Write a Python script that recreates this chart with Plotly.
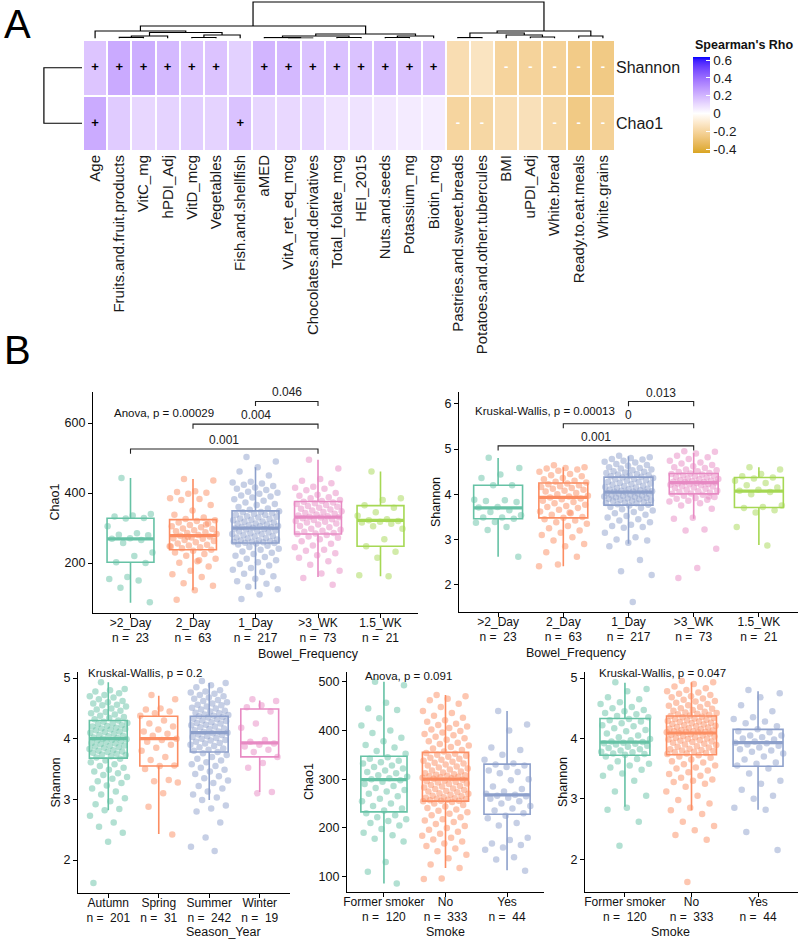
import plotly.graph_objects as go

W, H = 800, 940
FONT = "Liberation Sans, Arial, sans-serif"

# ---------------- Panel A : Spearman correlation heatmap ----------------
heat_vars = ["Age", "Fruits.and.fruit.products", "VitC_mg", "hPDI_Adj", "VitD_mcg", "Vegetables",
             "Fish.and.shellfish", "aMED", "VitA_ret_eq_mcg", "Chocolates.and.derivatives",
             "Total_folate_mcg", "HEI_2015", "Nuts.and.seeds", "Potassium_mg", "Biotin_mcg",
             "Pastries.and.sweet.breads", "Potatoes.and.other.tubercules", "BMI", "uPDI_Adj",
             "White.bread", "Ready.to.eat.meals", "White.grains"]
heat_rows = ["Chao1", "Shannon"]
rho_chao1 = [0.227, 0.14, 0.107, 0.12, 0.13, 0.12, 0.165, 0.11, 0.105, 0.11, 0.079, 0.075, 0.064, 0.052, 0.047,
             -0.20, -0.19, -0.155, -0.145, -0.19, -0.255, -0.22]
rho_shannon = [0.155, 0.23, 0.22, 0.19, 0.16, 0.16, 0.125, 0.20, 0.19, 0.165, 0.168, 0.165, 0.178, 0.168, 0.16,
               -0.16, -0.128, -0.205, -0.21, -0.215, -0.25, -0.255]
sig_chao1 = ["+", "", "", "", "", "", "+", "", "", "", "", "", "", "", "",
             "-", "-", "", "", "-", "-", "-"]
sig_shannon = ["+", "+", "+", "+", "+", "+", "", "+", "+", "+", "+", "+", "+", "+", "+",
               "", "", "-", "-", "-", "-", "-"]
rho_ticks = [-0.4, -0.2, 0, 0.2, 0.4, 0.6]
rho_limits = [-0.445, 0.634]
# column dendrogram: (left node, right node, merge height); leaves 0..21, merges numbered from 22
col_merges = [(1, 2, 1.2), (22, 3, 2.5), (4, 5, 1.0), (24, 6, 3.5), (23, 25, 6.0), (0, 26, 7.5),
              (8, 9, 0.5), (7, 28, 0.8), (10, 11, 1.0), (29, 30, 2.5), (12, 13, 1.0), (32, 14, 2.5),
              (31, 33, 4.5), (27, 34, 12.5), (15, 16, 0.8), (18, 19, 1.5), (17, 37, 3.5), (36, 38, 5.5),
              (20, 21, 2.5), (39, 40, 7.5), (35, 41, 36.5)]
row_merge_height = 1.0

# ---------------- Panel B : alpha diversity boxplots ----------------
set2 = ["#66C2A5", "#FC8D62", "#8DA0CB", "#E78AC3", "#A6D854"]

bowel_cats = [">2_Day", "2_Day", "1_Day", ">3_WK", "1.5_WK"]
bowel_n = [23, 63, 217, 73, 21]
season_cats = ["Autumn", "Spring", "Summer", "Winter"]
season_n = [201, 31, 242, 19]
smoke_cats = ["Former smoker", "No", "Yes"]
smoke_n = [120, 333, 44]

# box statistics: q1, median, q3, lower whisker, upper whisker
chao1_bowel_q1 = [202, 238, 257, 283, 248]
chao1_bowel_med = [269, 278, 300, 331, 322]
chao1_bowel_q3 = [328, 324, 349, 376, 364]
chao1_bowel_lo = [86, 122, 125, 160, 162]
chao1_bowel_hi = [443, 440, 474, 495, 462]

shannon_bowel_q1 = [3.46, 3.48, 3.76, 4.01, 3.71]
shannon_bowel_med = [3.70, 3.93, 4.05, 4.26, 4.07]
shannon_bowel_q3 = [4.20, 4.25, 4.38, 4.46, 4.37]
shannon_bowel_lo = [2.62, 2.41, 2.91, 3.46, 2.88]
shannon_bowel_hi = [4.80, 4.60, 4.84, 4.91, 4.60]

shannon_season_q1 = [3.68, 3.55, 3.78, 3.70]
shannon_season_med = [4.00, 4.00, 4.10, 3.93]
shannon_season_q3 = [4.30, 4.37, 4.37, 4.49]
shannon_season_lo = [2.82, 2.43, 2.99, 3.12]
shannon_season_hi = [4.93, 4.71, 4.92, 4.63]

chao1_smoke_q1 = [233, 255, 228]
chao1_smoke_med = [299, 300, 268]
chao1_smoke_q3 = [347, 355, 331]
chao1_smoke_lo = [86, 118, 113]
chao1_smoke_hi = [500, 473, 440]

shannon_smoke_q1 = [3.72, 3.73, 3.54]
shannon_smoke_med = [3.94, 4.09, 3.93]
shannon_smoke_q3 = [4.33, 4.37, 4.15]
shannon_smoke_lo = [2.87, 2.81, 2.82]
shannon_smoke_hi = [4.92, 4.93, 4.78]

chao1_bowel_pts = [
    [443, 340, 336, 333, 329, 327, 305, 285, 281, 279, 271, 269, 266, 257, 230, 220, 202, 200, 160, 154, 150, 129, 88],
    [440, 436, 405, 403, 401, 398, 385, 383, 380, 366, 350, 338, 330, 326, 322, 320, 316, 313, 309, 305, 302, 299,
     297, 294, 291, 288, 286, 283, 280, 278, 276, 273, 271, 269, 266, 263, 259, 256, 252, 250, 247, 245, 242, 238,
     235, 230, 226, 221, 212, 205, 201, 190, 178, 168, 160, 142, 135, 122, 95, 310, 275, 248, 208],
    [503, 490, 474, 462, 450, 432, 430, 427, 424, 420, 416, 412, 409, 404, 401, 398, 393, 390, 387, 382, 378, 373,
     369, 366, 360, 356, 352, 348, 346, 345, 342, 340, 338, 337, 334, 332, 330, 327, 326, 324, 322, 319, 318, 316,
     313, 312, 310, 308, 306, 305, 303, 302, 301, 299, 297, 296, 293, 291, 290, 287, 285, 283, 282, 279, 277, 276,
     273, 271, 270, 267, 265, 264, 262, 261, 260, 259, 258, 257, 256, 253, 249, 246, 241, 238, 233, 229, 226, 221,
     217, 212, 208, 202, 197, 193, 186, 181, 174, 169, 162, 155, 148, 141, 132, 125, 110, 97],
    [495, 470, 440, 435, 428, 418, 415, 412, 408, 400, 395, 392, 388, 385, 380, 377, 375, 373, 371, 369, 366, 363,
     361, 358, 355, 353, 350, 348, 346, 343, 341, 339, 336, 334, 332, 331, 330, 328, 325, 323, 320, 318, 316, 313,
     310, 306, 302, 298, 295, 292, 289, 286, 284, 283, 280, 276, 272, 268, 262, 255, 250, 245, 238, 235, 228, 222,
     215, 205, 195, 178, 170, 157, 138],
    [462, 385, 380, 365, 358, 345, 335, 325, 322, 320, 318, 316, 312, 305, 298, 268, 248, 232, 215, 165, 162],
]
shannon_bowel_pts = [
    [4.81, 4.58, 4.44, 4.36, 4.20, 4.20, 3.88, 3.87, 3.85, 3.83, 3.72, 3.71, 3.65, 3.61, 3.54, 3.49, 3.49, 3.46,
     3.39, 3.37, 3.28, 3.21, 2.62],
    [4.64, 4.60, 4.58, 4.57, 4.55, 4.52, 4.50, 4.45, 4.42, 4.40, 4.36, 4.33, 4.30, 4.28, 4.26, 4.24, 4.22, 4.20,
     4.18, 4.16, 4.14, 4.12, 4.10, 4.08, 4.06, 4.03, 4.00, 3.97, 3.95, 3.93, 3.91, 3.89, 3.86, 3.83, 3.80, 3.77,
     3.74, 3.72, 3.70, 3.66, 3.62, 3.58, 3.55, 3.50, 3.48, 3.45, 3.42, 3.38, 3.35, 3.30, 3.25, 3.20, 3.15, 3.10,
     3.05, 2.98, 2.90, 2.85, 2.72, 2.62, 2.45, 2.41, 3.60],
    [4.85, 4.82, 4.80, 4.78, 4.77, 4.74, 4.72, 4.70, 4.67, 4.65, 4.63, 4.60, 4.58, 4.57, 4.55, 4.53, 4.51, 4.50,
     4.48, 4.47, 4.45, 4.44, 4.42, 4.41, 4.40, 4.39, 4.37, 4.36, 4.34, 4.33, 4.31, 4.30, 4.28, 4.27, 4.25, 4.24,
     4.22, 4.21, 4.19, 4.18, 4.16, 4.15, 4.14, 4.12, 4.11, 4.10, 4.09, 4.08, 4.07, 4.06, 4.06, 4.05, 4.04, 4.03,
     4.02, 4.01, 4.00, 3.99, 3.98, 3.97, 3.96, 3.95, 3.94, 3.93, 3.92, 3.91, 3.90, 3.89, 3.88, 3.87, 3.86, 3.85,
     3.83, 3.82, 3.81, 3.80, 3.78, 3.77, 3.75, 3.72, 3.70, 3.67, 3.64, 3.61, 3.58, 3.55, 3.52, 3.49, 3.45, 3.42,
     3.38, 3.33, 3.30, 3.28, 3.26, 3.15, 3.05, 3.00, 2.98, 2.93, 2.85, 2.55, 2.30, 2.22, 1.62],
    [4.95, 4.94, 4.90, 4.85, 4.82, 4.78, 4.74, 4.70, 4.68, 4.65, 4.62, 4.60, 4.58, 4.55, 4.53, 4.51, 4.49, 4.47,
     4.46, 4.45, 4.44, 4.42, 4.41, 4.40, 4.38, 4.37, 4.35, 4.34, 4.33, 4.31, 4.30, 4.29, 4.28, 4.27, 4.27, 4.26,
     4.25, 4.24, 4.23, 4.22, 4.21, 4.20, 4.18, 4.17, 4.15, 4.14, 4.12, 4.10, 4.08, 4.07, 4.05, 4.04, 4.02, 4.01,
     3.99, 3.97, 3.94, 3.92, 3.90, 3.88, 3.86, 3.84, 3.80, 3.75, 3.68, 3.48, 3.46, 3.22, 3.20, 2.80, 2.37, 2.15, 3.95],
    [4.60, 4.55, 4.45, 4.40, 4.37, 4.35, 4.30, 4.25, 4.20, 4.15, 4.10, 4.08, 4.05, 4.00, 3.75, 3.72, 3.70, 3.65,
     3.60, 3.28, 2.87],
]
shannon_season_pts = [
    [4.93, 4.82, 4.80, 4.78, 4.75, 4.72, 4.70, 4.68, 4.65, 4.62, 4.60, 4.58, 4.56, 4.55, 4.53, 4.50, 4.48, 4.46,
     4.44, 4.42, 4.40, 4.38, 4.36, 4.34, 4.32, 4.30, 4.28, 4.26, 4.25, 4.24, 4.22, 4.21, 4.20, 4.18, 4.17, 4.16,
     4.15, 4.14, 4.12, 4.11, 4.10, 4.08, 4.06, 4.05, 4.04, 4.02, 4.01, 4.00, 3.99, 3.98, 3.97, 3.96, 3.95, 3.93,
     3.92, 3.91, 3.89, 3.88, 3.87, 3.86, 3.85, 3.83, 3.81, 3.80, 3.79, 3.78, 3.77, 3.75, 3.74, 3.73, 3.71, 3.69,
     3.67, 3.64, 3.61, 3.58, 3.55, 3.52, 3.49, 3.46, 3.43, 3.40, 3.37, 3.34, 3.30, 3.27, 3.23, 3.18, 3.13, 3.08,
     3.02, 2.97, 2.92, 2.84, 2.82, 2.73, 2.62, 2.55, 2.45, 2.30, 1.62],
    [4.72, 4.65, 4.50, 4.48, 4.45, 4.42, 4.38, 4.30, 4.25, 4.20, 4.15, 4.12, 4.08, 4.05, 4.00, 3.98, 3.95, 3.90,
     3.85, 3.80, 3.70, 3.65, 3.56, 3.55, 3.50, 3.32, 3.30, 3.28, 3.10, 2.88, 2.42],
    [4.95, 4.92, 4.88, 4.85, 4.80, 4.78, 4.76, 4.74, 4.72, 4.70, 4.68, 4.66, 4.64, 4.62, 4.60, 4.58, 4.56, 4.55,
     4.53, 4.51, 4.50, 4.48, 4.46, 4.45, 4.43, 4.42, 4.40, 4.39, 4.38, 4.37, 4.36, 4.35, 4.33, 4.32, 4.30, 4.29,
     4.27, 4.26, 4.25, 4.23, 4.22, 4.20, 4.19, 4.17, 4.16, 4.14, 4.12, 4.11, 4.10, 4.09, 4.07, 4.06, 4.04, 4.03,
     4.01, 4.00, 3.98, 3.97, 3.95, 3.93, 3.92, 3.90, 3.88, 3.86, 3.84, 3.82, 3.80, 3.78, 3.76, 3.73, 3.70, 3.67,
     3.64, 3.61, 3.58, 3.55, 3.52, 3.49, 3.46, 3.42, 3.38, 3.35, 3.31, 3.27, 3.22, 3.18, 3.13, 3.08, 3.03, 2.99,
     2.90, 2.85, 2.80, 2.62, 2.37, 2.22, 2.15],
    [4.65, 4.62, 4.55, 4.52, 4.45, 4.25, 4.18, 3.98, 3.95, 3.92, 3.90, 3.87, 3.82, 3.78, 3.70, 3.60, 3.52, 3.12, 3.10],
]
chao1_smoke_pts = [
    [500, 493, 457, 445, 442, 425, 410, 400, 395, 385, 378, 370, 365, 358, 352, 345, 342, 338, 335, 332, 328, 325,
     322, 318, 315, 312, 308, 305, 302, 300, 298, 295, 290, 286, 282, 278, 275, 270, 265, 260, 255, 250, 245, 240,
     236, 230, 226, 222, 218, 214, 210, 205, 198, 190, 185, 178, 172, 130, 110, 86],
    [473, 470, 465, 462, 455, 448, 440, 436, 430, 426, 421, 418, 414, 411, 408, 405, 402, 399, 396, 393, 390, 387,
     384, 381, 378, 375, 372, 369, 366, 363, 360, 357, 354, 352, 350, 348, 346, 344, 342, 340, 338, 336, 334, 332,
     330, 328, 326, 324, 322, 320, 318, 316, 314, 312, 310, 309, 308, 307, 306, 305, 304, 303, 302, 301, 299, 297,
     296, 294, 293, 291, 290, 288, 286, 285, 283, 281, 280, 278, 276, 275, 273, 271, 270, 268, 266, 265, 263, 262,
     261, 260, 259, 258, 257, 256, 256, 255, 253, 250, 247, 244, 241, 238, 235, 232, 229, 226, 222, 218, 215, 212,
     208, 204, 200, 196, 192, 188, 184, 180, 176, 172, 168, 163, 158, 152, 145, 138, 125, 118, 96, 95],
    [440, 412, 400, 365, 360, 350, 340, 332, 330, 328, 325, 318, 315, 312, 300, 298, 285, 280, 275, 270, 268, 266,
     265, 262, 260, 255, 250, 245, 240, 236, 230, 225, 220, 210, 205, 180, 175, 168, 165, 160, 155, 140, 135, 112],
]
shannon_smoke_pts = [
    [4.93, 4.82, 4.78, 4.68, 4.65, 4.60, 4.57, 4.52, 4.50, 4.47, 4.45, 4.42, 4.40, 4.37, 4.35, 4.32, 4.30, 4.28,
     4.25, 4.22, 4.20, 4.17, 4.14, 4.12, 4.08, 4.05, 4.02, 3.99, 3.97, 3.95, 3.94, 3.93, 3.92, 3.91, 3.90, 3.88,
     3.86, 3.84, 3.82, 3.80, 3.78, 3.77, 3.75, 3.74, 3.73, 3.70, 3.66, 3.62, 3.58, 3.55, 3.52, 3.48, 3.42, 3.38,
     3.30, 3.12, 3.05, 2.85, 2.82, 2.62, 2.22],
    [4.95, 4.93, 4.90, 4.86, 4.83, 4.80, 4.78, 4.76, 4.74, 4.72, 4.70, 4.68, 4.66, 4.64, 4.62, 4.61, 4.59, 4.57,
     4.55, 4.54, 4.52, 4.50, 4.49, 4.47, 4.46, 4.44, 4.43, 4.42, 4.41, 4.40, 4.39, 4.38, 4.37, 4.36, 4.35, 4.34,
     4.33, 4.32, 4.31, 4.30, 4.29, 4.28, 4.27, 4.26, 4.25, 4.24, 4.23, 4.22, 4.21, 4.20, 4.19, 4.18, 4.17, 4.16,
     4.15, 4.14, 4.13, 4.12, 4.12, 4.11, 4.11, 4.10, 4.10, 4.09, 4.08, 4.07, 4.06, 4.05, 4.04, 4.03, 4.02, 4.01,
     4.00, 3.99, 3.98, 3.97, 3.96, 3.95, 3.94, 3.93, 3.91, 3.90, 3.89, 3.87, 3.86, 3.85, 3.83, 3.82, 3.81, 3.80,
     3.79, 3.78, 3.77, 3.76, 3.75, 3.74, 3.72, 3.70, 3.68, 3.65, 3.62, 3.60, 3.57, 3.55, 3.52, 3.50, 3.47, 3.44,
     3.41, 3.38, 3.35, 3.32, 3.30, 3.28, 3.25, 3.20, 3.12, 3.05, 2.98, 2.92, 2.85, 2.81, 2.75, 2.62, 2.55, 2.48,
     2.40, 2.32, 1.62],
    [4.80, 4.75, 4.68, 4.55, 4.45, 4.35, 4.32, 4.28, 4.25, 4.20, 4.15, 4.12, 4.10, 4.05, 4.05, 4.02, 4.00, 3.98,
     3.95, 3.93, 3.92, 3.90, 3.88, 3.85, 3.82, 3.80, 3.78, 3.75, 3.70, 3.65, 3.60, 3.58, 3.55, 3.50, 3.42, 3.30,
     3.25, 3.15, 3.05, 3.00, 2.85, 2.82, 2.45, 2.15],
]

# pairwise comparisons: (group a, group b, bracket height, label)
chao1_bowel_brackets = [(0, 3, 526, "0.001"), (1, 3, 597, "0.004"), (2, 3, 662, "0.046")]
shannon_bowel_brackets = [(0, 3, 5.07, "0.001"), (1, 3, 5.56, "0"), (2, 3, 6.05, "0.013")]

chao1_bowel_test = "Anova, p = 0.00029"
shannon_bowel_test = "Kruskal-Wallis, p = 0.00013"
shannon_season_test = "Kruskal-Wallis, p = 0.2"
chao1_smoke_test = "Anova, p = 0.091"
shannon_smoke_test = "Kruskal-Wallis, p = 0.047"


# ---------------- helpers ----------------
def dx(a, b):
    return [a / W, b / W]


def dy(top, bottom):
    return [1 - bottom / H, 1 - top / H]


def _lin(c):
    c = c / 255.0
    return c / 12.92 if c <= 0.04045 else ((c + 0.055) / 1.055) ** 2.4


def _gam(c):
    c = max(0.0, min(1.0, c))
    return 12.92 * c if c <= 0.0031308 else 1.055 * c ** (1 / 2.4) - 0.055


def hex2lab(h):
    r, g, b = [_lin(int(h[i:i + 2], 16)) for i in (1, 3, 5)]
    X = (0.4124 * r + 0.3576 * g + 0.1805 * b) / 0.95047
    Y = 0.2126 * r + 0.7152 * g + 0.0722 * b
    Z = (0.0193 * r + 0.1192 * g + 0.9505 * b) / 1.08883
    f = lambda t: t ** (1 / 3) if t > 0.008856 else 7.787 * t + 16 / 116
    fx, fy, fz = f(X), f(Y), f(Z)
    return (116 * fy - 16, 500 * (fx - fy), 200 * (fy - fz))


def lab2rgb(L, a, b):
    fy = (L + 16) / 116
    fx = fy + a / 500
    fz = fy - b / 200
    finv = lambda t: t ** 3 if t ** 3 > 0.008856 else (t - 16 / 116) / 7.787
    X, Y, Z = finv(fx) * 0.95047, finv(fy), finv(fz) * 1.08883
    r = 3.2406 * X - 1.5372 * Y - 0.4986 * Z
    g = -0.9689 * X + 1.8758 * Y + 0.0415 * Z
    bb = 0.0557 * X - 0.2040 * Y + 1.0570 * Z
    return "rgb(%d,%d,%d)" % tuple(round(255 * _gam(c)) for c in (r, g, bb))


def mix(c1, c2, t):
    l1, l2 = hex2lab(c1), hex2lab(c2)
    return lab2rgb(*[l1[k] + (l2[k] - l1[k]) * t for k in range(3)])


ZMIN, ZMAX = rho_limits
LOW, MID, HIGH = "#DAA520", "#FFFFFF", "#0000FF"
cscale = []
NS = 20
for k in range(NS + 1):
    v = ZMIN * (1 - k / NS)
    cscale.append([(v - ZMIN) / (ZMAX - ZMIN), mix(MID, LOW, v / ZMIN)])
for k in range(1, NS + 1):
    v = ZMAX * k / NS
    cscale.append([(v - ZMIN) / (ZMAX - ZMIN), mix(MID, HIGH, v / ZMAX)])
cscale[0][0] = 0.0
cscale[-1][0] = 1.0

fig = go.Figure()
axes = {}
ann = []

# ---------------- heatmap ----------------
nv = len(heat_vars)
fig.add_trace(go.Heatmap(
    z=[rho_chao1, rho_shannon], x=list(range(nv)), y=[0, 1], xaxis="x", yaxis="y",
    colorscale=cscale, zmin=ZMIN, zmax=ZMAX, xgap=2, ygap=2, hoverinfo="skip",
    colorbar=dict(x=693 / W, xanchor="left", xpad=0, y=1 - 153 / H, yanchor="bottom", ypad=0,
                  len=96, lenmode="pixels", thickness=17, thicknessmode="pixels", outlinewidth=0,
                  tickvals=rho_ticks, ticktext=[("%g" % t) for t in rho_ticks], ticks="inside",
                  tickcolor="white", ticklen=4, tickwidth=1.2,
                  tickfont=dict(size=13.5, color="#1a1a1a", family=FONT))))
ann.append(dict(x=693 / W, y=1 - 45 / H, xref="paper", yref="paper", text="<b>Spearman's Rho</b>",
                showarrow=False, xanchor="left", yanchor="middle", font=dict(size=12.5, color="#111")))
for sig, row in ((sig_shannon, 1), (sig_chao1, 0)):
    for mark, colr in (("+", "black"), ("-", "white")):
        xs = [i for i, s in enumerate(sig) if s == mark]
        fig.add_trace(go.Scatter(x=xs, y=[row] * len(xs), mode="text", text=["<b>%s</b>" % mark] * len(xs),
                                 textfont=dict(size=13, color=colr, family=FONT), xaxis="x", yaxis="y",
                                 hoverinfo="skip"))
axes["xaxis"] = dict(domain=dx(83, 615), range=[-0.5, nv - 0.5], anchor="y", tickvals=list(range(nv)),
                     ticktext=heat_vars, tickangle=-90, tickfont=dict(size=15, color="#1a1a1a"),
                     showgrid=False, zeroline=False, ticks="", showline=False, automargin=False)
axes["yaxis"] = dict(domain=dy(40, 151), range=[-0.5, 1.5], anchor="x", side="right", tickvals=[0, 1],
                     ticktext=heat_rows, tickfont=dict(size=16, color="#1a1a1a"), showgrid=False,
                     zeroline=False, ticks="", showline=False, automargin=False)

# column dendrogram
pos = {i: (float(i), 0.0) for i in range(nv)}
dxs, dys = [], []
for k, (a, b, h) in enumerate(col_merges):
    xa, ha = pos[a]
    xb, hb = pos[b]
    dxs += [xa, xa, xb, xb, None]
    dys += [ha, h, h, hb, None]
    pos[nv + k] = ((xa + xb) / 2, h)
fig.add_trace(go.Scatter(x=dxs, y=dys, mode="lines", line=dict(color="black", width=1.2),
                         xaxis="x2", yaxis="y2", hoverinfo="skip"))
axes["xaxis2"] = dict(domain=dx(83, 615), range=[-0.5, nv - 0.5], anchor="y2", visible=False,
                      automargin=False)
axes["yaxis2"] = dict(domain=dy(1, 38.5), range=[0, 37.5], anchor="x2", visible=False, automargin=False)

# row dendrogram
fig.add_trace(go.Scatter(x=[0, row_merge_height, row_merge_height, 0], y=[0, 0, 1, 1], mode="lines",
                         line=dict(color="black", width=1.2), xaxis="x3", yaxis="y3", hoverinfo="skip"))
axes["xaxis3"] = dict(domain=dx(42, 82), range=[1.05, 0], anchor="y3", visible=False, automargin=False)
axes["yaxis3"] = dict(domain=dy(40, 151), range=[-0.5, 1.5], anchor="x3", visible=False, automargin=False)

# ---------------- box panels ----------------
panels = [
    dict(n=4, px=(93, 418), py=(392, 613), yr=[57, 689], yt=[200, 400, 600], cats=bowel_cats, ns=bowel_n,
         st=(chao1_bowel_q1, chao1_bowel_med, chao1_bowel_q3, chao1_bowel_lo, chao1_bowel_hi),
         pts=chao1_bowel_pts, ytitle="Chao1", xtitle="Bowel_Frequency", ytx=55, xty=41,
         br=chao1_bowel_brackets, test=chao1_bowel_test, tpos=(-0.3, 630, "left")),
    dict(n=5, px=(459, 798), py=(392, 612), yr=[1.40, 6.26], yt=[2, 3, 4, 5, 6], cats=bowel_cats, ns=bowel_n,
         st=(shannon_bowel_q1, shannon_bowel_med, shannon_bowel_q3, shannon_bowel_lo, shannon_bowel_hi),
         pts=shannon_bowel_pts, ytitle="Shannon", xtitle="Bowel_Frequency", ytx=436, xty=41,
         br=shannon_bowel_brackets, test=shannon_bowel_test, tpos=(-0.38, 5.85, "left")),
    dict(n=6, px=(78, 290), py=(672, 893), yr=[1.456, 5.10], yt=[2, 3, 4, 5], cats=season_cats, ns=season_n,
         st=(shannon_season_q1, shannon_season_med, shannon_season_q3, shannon_season_lo, shannon_season_hi),
         pts=shannon_season_pts, ytitle="Shannon", xtitle="Season_Year", ytx=55, xty=39,
         br=[], test=shannon_season_test, tpos=(-0.44, 5.08, "left")),
    dict(n=7, px=(347, 544), py=(672, 892), yr=[68.5, 520], yt=[100, 200, 300, 400, 500], cats=smoke_cats,
         ns=smoke_n, st=(chao1_smoke_q1, chao1_smoke_med, chao1_smoke_q3, chao1_smoke_lo, chao1_smoke_hi),
         pts=chao1_smoke_pts, ytitle="Chao1", xtitle="Smoke", ytx=309, xty=40,
         br=[], test=chao1_smoke_test, tpos=(0.4, 512, "center")),
    dict(n=8, px=(585, 798), py=(672, 892), yr=[1.456, 5.10], yt=[2, 3, 4, 5], cats=smoke_cats, ns=smoke_n,
         st=(shannon_smoke_q1, shannon_smoke_med, shannon_smoke_q3, shannon_smoke_lo, shannon_smoke_hi),
         pts=shannon_smoke_pts, ytitle="Shannon", xtitle="Smoke", ytx=563, xty=40,
         br=[], test=shannon_smoke_test, tpos=(0.56, 5.09, "center")),
]

BW = 0.75
JIT = 0.38
for p in panels:
    xa, ya = "x%d" % p["n"], "y%d" % p["n"]
    q1, med, q3, lo, hi = p["st"]
    ncat = len(p["cats"])
    for i in range(ncat):
        col = set2[i]
        fig.add_trace(go.Box(x=[i], q1=[q1[i]], median=[med[i]], q3=[q3[i]], lowerfence=[lo[i]],
                             upperfence=[hi[i]], width=BW, whiskerwidth=0, boxpoints=False,
                             fillcolor="rgba(255,255,255,0)", line=dict(color=col, width=1.6),
                             xaxis=xa, yaxis=ya, hoverinfo="skip"))
        fig.add_trace(go.Scatter(x=[i - BW / 2, i + BW / 2], y=[med[i], med[i]], mode="lines",
                                 line=dict(color=col, width=3.2), xaxis=xa, yaxis=ya, hoverinfo="skip"))
        vals = p["pts"][i]
        offs = [i + ((k * 0.6180339887 + 0.31) % 1.0 - 0.5) * 2 * JIT for k in range(len(vals))]
        fig.add_trace(go.Scatter(x=offs, y=vals, mode="markers",
                                 marker=dict(color=col, size=6.5, opacity=0.5, line=dict(width=0)),
                                 xaxis=xa, yaxis=ya, hoverinfo="skip"))
    span = p["yr"][1] - p["yr"][0]
    for (a, b, yv, lab) in p["br"]:
        tk = 0.021 * span
        fig.add_trace(go.Scatter(x=[a, a, b, b], y=[yv - tk, yv, yv, yv - tk], mode="lines",
                                 line=dict(color="#222", width=1.1), xaxis=xa, yaxis=ya, hoverinfo="skip"))
        ann.append(dict(x=(a + b) / 2, y=yv, xref=xa, yref=ya, text=lab, showarrow=False, yanchor="bottom",
                        yshift=0, font=dict(size=12, color="#222")))
    tx, tyv, tanc = p["tpos"]
    ann.append(dict(x=tx, y=tyv, xref=xa, yref=ya, text=p["test"], showarrow=False, xanchor=tanc,
                    yanchor="middle", font=dict(size=11.5, color="#111")))
    axes["xaxis%d" % p["n"]] = dict(domain=dx(*p["px"]), range=[-0.6, ncat - 0.4], anchor=ya,
                                    tickvals=list(range(ncat)), tickangle=0, automargin=False,
                                    ticktext=["%s<br>n =  %d" % (c, m) for c, m in zip(p["cats"], p["ns"])],
                                    showline=True, linecolor="black", linewidth=1.3, ticks="outside",
                                    ticklen=4, tickcolor="black", tickwidth=1.1, showgrid=False, zeroline=False,
                                    ticklabelstandoff=-6, tickfont=dict(size=12, color="#111"))
    axes["yaxis%d" % p["n"]] = dict(domain=dy(*p["py"]), range=p["yr"], anchor=xa, tickvals=p["yt"],
                                    showline=True, linecolor="black", linewidth=1.3, ticks="outside",
                                    ticklen=4, tickcolor="black", tickwidth=1.1, showgrid=False, zeroline=False,
                                    automargin=False, tickfont=dict(size=12.5, color="#111"))
    ann.append(dict(x=(p["px"][0] + p["px"][1]) / 2 / W, y=1 - (p["py"][1] + p["xty"]) / H, xref="paper",
                    yref="paper", text=p["xtitle"], showarrow=False, yanchor="middle",
                    font=dict(size=12.5, color="#111")))
    ann.append(dict(x=p["ytx"] / W, y=1 - (p["py"][0] + p["py"][1]) / 2 / H, xref="paper", yref="paper",
                    text=p["ytitle"], textangle=-90, showarrow=False, xanchor="center", yanchor="middle",
                    font=dict(size=12.5, color="#111")))

# panel letters
ann.append(dict(x=2 / W, y=1 - 24 / H, xref="paper", yref="paper", text="A", showarrow=False,
                xanchor="left", yanchor="middle", font=dict(size=40, color="black")))
ann.append(dict(x=2 / W, y=1 - 350 / H, xref="paper", yref="paper", text="B", showarrow=False,
                xanchor="left", yanchor="middle", font=dict(size=40, color="black")))

fig.update_layout(width=W, height=H, margin=dict(l=0, r=0, t=0, b=0, autoexpand=False), paper_bgcolor="white",
                  plot_bgcolor="white", showlegend=False, font=dict(family=FONT, color="#111"),
                  annotations=ann, **axes)
fig.write_html("out.html", config={"displayModeBar": False},
               post_script="document.body.style.margin='0';")
